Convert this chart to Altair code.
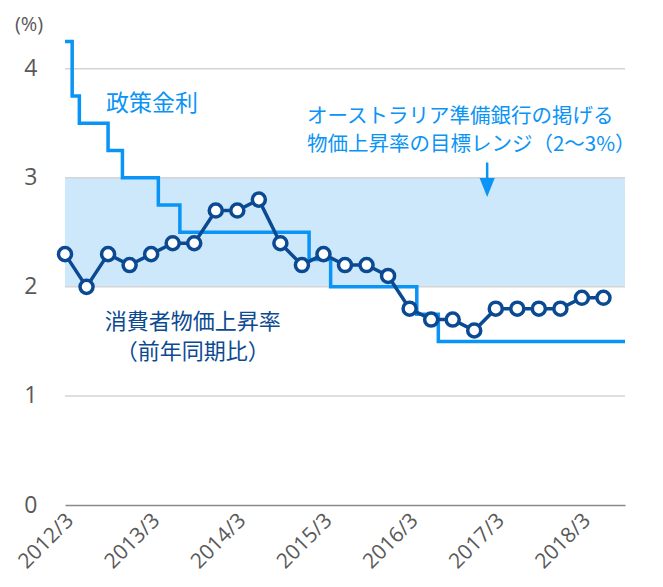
import altair as alt
import pandas as pd

# CPI (y/y %), quarterly from 2012/3 (month index 0) to 2018/6
cpi_month = [0, 3, 6, 9, 12, 15, 18, 21, 24, 27, 30, 33, 36, 39, 42, 45,
             48, 51, 54, 57, 60, 63, 66, 69, 72, 75]
cpi_value = [2.3, 2.0, 2.3, 2.2, 2.3, 2.4, 2.4, 2.7, 2.7, 2.8, 2.4, 2.2, 2.3,
             2.2, 2.2, 2.1, 1.8, 1.7, 1.7, 1.6, 1.8, 1.8, 1.8, 1.8, 1.9, 1.9]

# Policy rate change points (month index from 2012/3)
rate_month = [0, 1, 2, 6, 8, 13, 16, 34, 37, 49, 52, 78]
rate_value = [4.25, 3.75, 3.5, 3.25, 3.0, 2.75, 2.5, 2.25, 2.0, 1.75, 1.5, 1.5]

tick_months = [0, 12, 24, 36, 48, 60, 72]
y_ticks = [0, 1, 2, 3, 4]
grid_vals = [1, 2, 3, 4]
band_low, band_high = [2], [3]
x_min, x_max = 0, 78

rate_label = "政策金利"
band_label = ["オーストラリア準備銀行の掲げる", "物価上昇率の目標レンジ（2～3%）"]
cpi_label = ["消費者物価上昇率", "（前年同期比）"]
unit_label = "(%)"

FONT = "Noto Sans CJK JP"
NUM_FONT = "Open Sans"
C_RATE = "#0a94f5"
C_CPI = "#0b4a93"
C_BAND = "#cde8fb"
C_GRID = "#d4d4d4"
C_TEXT = "#595959"

cpi_df = pd.DataFrame({"m": cpi_month, "v": cpi_value})
rate_df = pd.DataFrame({"m": rate_month, "v": rate_value})
band_df = pd.DataFrame({"x": [x_min], "x2": [x_max], "lo": band_low, "hi": band_high})
grid_df = pd.DataFrame({"y": grid_vals, "x": [x_min] * 4, "x2": [x_max] * 4})

xscale = alt.Scale(domain=[x_min, x_max], nice=False, zero=False)
yscale = alt.Scale(domain=[0, 4.3], nice=False)

x_axis = alt.Axis(values=tick_months, labelExpr="(2012 + datum.value/12) + '/3'",
                  title=None, grid=False, ticks=False, domain=True,
                  domainColor="#8a8a8a", domainWidth=1.5,
                  labelAngle=-45, labelAlign="right", labelBaseline="middle",
                  labelPadding=12, labelOffset=5, labelFontSize=21,
                  labelColor=C_TEXT, labelFont=NUM_FONT)
y_axis = alt.Axis(values=y_ticks, format="d", title=None, grid=False, ticks=False,
                  domain=False, labelPadding=28, labelFontSize=23,
                  labelColor=C_TEXT, labelFont=NUM_FONT)

band = alt.Chart(band_df).mark_rect(color=C_BAND).encode(
    x=alt.X("x:Q", scale=xscale, axis=x_axis), x2="x2:Q",
    y=alt.Y("lo:Q", scale=yscale, axis=y_axis), y2="hi:Q")

grid = alt.Chart(grid_df).mark_rule(color=C_GRID, strokeWidth=1.5).encode(
    x=alt.X("x:Q", scale=xscale), x2="x2:Q", y=alt.Y("y:Q", scale=yscale))

rate = alt.Chart(rate_df).mark_line(interpolate="step-after", color=C_RATE,
                                    strokeWidth=3.5).encode(
    x=alt.X("m:Q", scale=xscale), y=alt.Y("v:Q", scale=yscale))

cpi = alt.Chart(cpi_df).mark_line(
    color=C_CPI, strokeWidth=3.5,
    point=alt.OverlayMarkDef(filled=True, fill="white", stroke=C_CPI,
                             strokeWidth=3.5, size=170, opacity=1)).encode(
    x=alt.X("m:Q", scale=xscale), y=alt.Y("v:Q", scale=yscale))


def label(text, x, y, color, size=20, align="left", font=FONT, lh=None):
    kw = {}
    if lh is not None:
        kw["lineHeight"] = lh
    return alt.Chart(pd.DataFrame({"a": [0]})).mark_text(
        text=text, font=font, fontSize=size, color=color, align=align,
        baseline="middle", **kw).encode(
        x=alt.datum(x, scale=xscale), y=alt.datum(y, scale=yscale))


texts = [
    label(unit_label, -5.0, 4.40, C_TEXT, size=20, align="center", font=NUM_FONT),
    label(rate_label, 5.7, 3.68, C_RATE, size=23),
    label(band_label, 33.7, 3.56, C_RATE, size=20.5, lh=28),
    label(cpi_label, 17.8, 1.675, C_CPI, size=22, align="center", lh=30),
]

arrow_df = pd.DataFrame({"a": [0]})
arrow_line = alt.Chart(arrow_df).mark_rule(color=C_RATE, strokeWidth=2.5).encode(
    x=alt.datum(58.8, scale=xscale), y=alt.datum(3.14, scale=yscale),
    y2=alt.datum(2.97))
arrow_head = alt.Chart(arrow_df).mark_point(
    shape="M-0.8,-1 L0.8,-1 L0,1 Z", filled=True, color=C_RATE, size=361,
    opacity=1).encode(
    x=alt.datum(58.8, scale=xscale), y=alt.datum(2.91, scale=yscale))

chart = alt.layer(band, grid, rate, cpi, *texts, arrow_line, arrow_head).properties(
    width=560, height=469,
    autosize=alt.AutoSizeParams(type="none"),
    padding={"left": 57, "top": 28, "right": 30, "bottom": 74},
).configure_view(stroke=None)

chart.save("out.html", embed_options={"renderer": "svg", "actions": False})
